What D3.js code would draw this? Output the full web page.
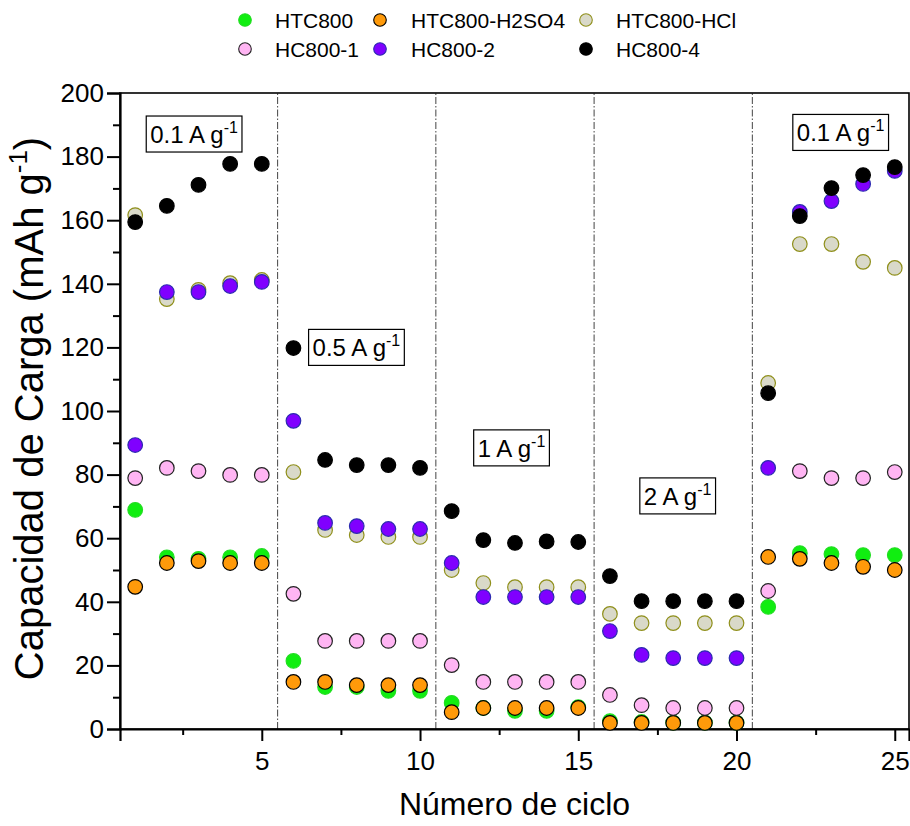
<!DOCTYPE html>
<html>
<head>
<meta charset="utf-8">
<script src="https://cdn.jsdelivr.net/npm/d3@7/dist/d3.min.js"></script>
<style>
  body { margin: 0; background: #fff; }
  svg { font-family: "Liberation Sans", Arial, sans-serif; }
</style>
</head>
<body>
<svg id="chart" width="910" height="826"></svg>
<script>
const cycles = d3.range(1, 26);

const HTC800 = [68.9, 54.0, 53.5, 54.0, 54.4, 21.4, 13.2, 13.2, 12.0, 12.0, 8.2, 6.6, 5.7, 5.7, 6.9, 2.5, 2.2, 2.0, 2.0, 2.0, 38.4, 55.3, 55.0, 54.7, 54.7];
const HTC800_H2SO4 = [44.7, 52.2, 52.8, 52.2, 52.2, 14.8, 14.8, 13.8, 13.8, 13.8, 5.3, 6.6, 6.6, 6.6, 6.6, 1.9, 1.9, 1.9, 1.9, 1.9, 54.1, 53.5, 52.2, 51.0, 50.0];
const HTC800_HCl = [161.6, 135.2, 138.1, 140.2, 141.2, 80.8, 62.6, 61.0, 60.4, 60.4, 50.0, 45.9, 44.6, 44.6, 44.6, 36.2, 33.3, 33.3, 33.3, 33.3, 108.8, 152.5, 152.5, 146.9, 145.0];
const HC800_1 = [78.9, 82.1, 81.1, 79.9, 79.9, 42.5, 27.7, 27.7, 27.7, 27.7, 20.1, 14.8, 14.8, 14.8, 14.8, 10.7, 7.5, 6.6, 6.6, 6.6, 43.4, 81.1, 78.9, 78.9, 80.8];
const HC800_2 = [89.3, 137.4, 137.4, 139.3, 140.6, 96.9, 64.8, 63.8, 62.9, 62.9, 52.2, 41.5, 41.5, 41.5, 41.5, 30.8, 23.3, 22.3, 22.3, 22.3, 82.1, 162.6, 166.0, 171.4, 175.5];
const HC800_4 = [159.4, 164.5, 171.1, 177.7, 177.7, 119.8, 84.6, 83.0, 83.0, 82.1, 68.5, 59.4, 58.5, 59.0, 58.8, 48.1, 40.2, 40.2, 40.2, 40.2, 105.6, 161.3, 170.1, 174.2, 176.7];

const seriesNames = ["HTC800", "HTC800-H2SO4", "HTC800-HCl", "HC800-1", "HC800-2", "HC800-4"];
const seriesValues = [HTC800, HTC800_H2SO4, HTC800_HCl, HC800_1, HC800_2, HC800_4];
const fills = ["#10ee10", "#ff9a0a", "#d9d9c9", "#ffb5f3", "#8000ff", "#000000"];
const strokes = ["#22dd22", "#000000", "#8f8f1a", "#222222", "#2b2bb0", "#000000"];

const xTicks = [5, 10, 15, 20, 25];
const yTicks = [0, 20, 40, 60, 80, 100, 120, 140, 160, 180, 200];
const dividers = [5.5, 10.5, 15.5, 20.5];
const rateLabels = ["0.1 A g", "0.5 A g", "1 A g", "2 A g", "0.1 A g"];
const rateLabelX = [2.86, 7.99, 12.89, 18.14, 23.29];
const rateLabelY = [187.1, 120.0, 88.4, 73.3, 187.6];

const svg = d3.select("#chart");
const L = 120, R = 909, T = 93, B = 729;

const x = d3.scaleLinear().domain([0.52, 25.45]).range([L, R]);
const y = d3.scaleLinear().domain([0, 200]).range([B, T]);

// dividers
svg.append("g").selectAll("line").data(dividers).join("line")
  .attr("x1", d => x(d)).attr("x2", d => x(d))
  .attr("y1", B).attr("y2", T)
  .attr("stroke", "#444").attr("stroke-width", 1)
  .attr("stroke-dasharray", "7,2,1.5,2");

// frame
svg.append("rect").attr("x", L).attr("y", T).attr("width", R - L).attr("height", B - T)
  .attr("fill", "none").attr("stroke", "#000").attr("stroke-width", 1.6);

// axes
const xAxis = d3.axisBottom(x).tickValues(xTicks).tickSize(12).tickPadding(11).tickFormat(d3.format("d"));
const gx = svg.append("g").attr("transform", `translate(0,${B})`).call(xAxis);
gx.select(".domain").attr("stroke-width", 2.2);
gx.selectAll(".tick line").attr("stroke-width", 2);
gx.selectAll(".tick text").attr("font-size", 26).attr("fill", "#000").attr("font-family", "Liberation Sans, Arial, sans-serif");
const xMinor = d3.axisBottom(x).tickValues([2.5, 7.5, 12.5, 17.5, 22.5]).tickSize(6).tickFormat("");
const gxm = svg.append("g").attr("transform", `translate(0,${B})`).call(xMinor);
gxm.select(".domain").remove();
gxm.selectAll(".tick line").attr("stroke-width", 2);

const yAxis = d3.axisLeft(y).tickValues(yTicks).tickSize(13).tickPadding(3).tickFormat(d3.format("d"));
const gy = svg.append("g").attr("transform", `translate(${L},0)`).call(yAxis);
gy.select(".domain").attr("stroke-width", 2.2);
gy.selectAll(".tick line").attr("stroke-width", 2);
gy.selectAll(".tick text").attr("font-size", 26).attr("fill", "#000").attr("font-family", "Liberation Sans, Arial, sans-serif");
const yMinor = d3.axisLeft(y).tickValues(d3.range(10, 200, 20)).tickSize(7).tickFormat("");
const gym = svg.append("g").attr("transform", `translate(${L},0)`).call(yMinor);
gym.select(".domain").remove();
gym.selectAll(".tick line").attr("stroke-width", 2);

// axis titles
svg.append("text").attr("x", (L + R) / 2 + 0).attr("y", 815)
  .attr("text-anchor", "middle").attr("font-size", 32).text("Número de ciclo");

const yt = svg.append("text").attr("transform", `translate(43,${(127 + 690) / 2}) rotate(-90)`)
  .attr("text-anchor", "middle").attr("font-size", 40);
yt.append("tspan").text("Capacidad de Carga (mAh g");
yt.append("tspan").attr("font-size", 26).attr("dy", -16).text("-1");
yt.append("tspan").attr("dy", 16).text(")");

// points
seriesValues.forEach((vals, i) => {
  svg.append("g").selectAll("circle").data(vals).join("circle")
    .attr("cx", (d, j) => x(cycles[j]))
    .attr("cy", d => y(d))
    .attr("r", 7.3)
    .attr("fill", fills[i])
    .attr("stroke", strokes[i])
    .attr("stroke-width", 1.2);
});

// rate labels
rateLabels.forEach((lab, i) => {
  const g = svg.append("g");
  const t = g.append("text").attr("x", x(rateLabelX[i])).attr("y", y(rateLabelY[i]) + 9)
    .attr("text-anchor", "middle").attr("font-size", 24);
  t.append("tspan").text(lab);
  t.append("tspan").attr("font-size", 16).attr("dy", -10).text("-1");
  const bb = t.node().getBBox();
  g.insert("rect", "text")
    .attr("x", bb.x - 4).attr("y", y(rateLabelY[i]) - 18)
    .attr("width", bb.width + 8).attr("height", 36)
    .attr("fill", "#fff").attr("stroke", "#000").attr("stroke-width", 1.2);
});

// legend
const legX = [245, 380, 586];
const legTextX = [275, 411, 616];
const legY = [20, 49];
const legOrder = [0, 1, 2, 3, 4, 5];
legOrder.forEach((si, k) => {
  const col = k % 3, row = Math.floor(k / 3);
  svg.append("circle").attr("cx", legX[col]).attr("cy", legY[row]).attr("r", 6.3)
    .attr("fill", fills[si]).attr("stroke", strokes[si]).attr("stroke-width", 1.1);
  svg.append("text").attr("x", legTextX[col]).attr("y", legY[row] + 7.5)
    .attr("font-size", 21).text(seriesNames[si]);
});
</script>
</body>
</html>
